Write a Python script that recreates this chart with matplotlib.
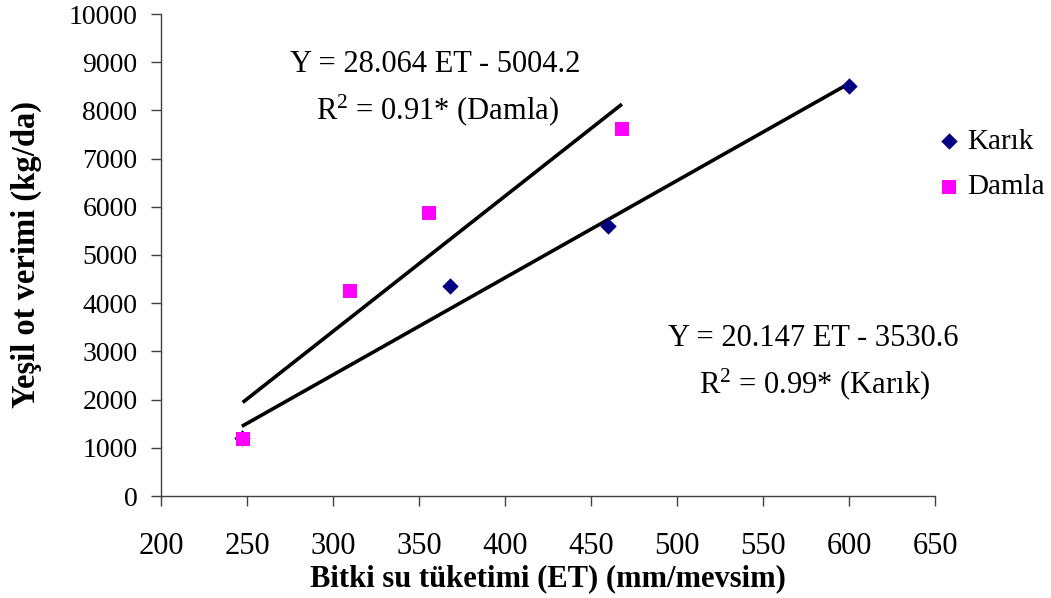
import matplotlib
matplotlib.use("Agg")
import matplotlib.pyplot as plt
import numpy as np

# Data
karik_et = [247, 368, 460, 600]
karik_yield = [1200, 4350, 5600, 8500]
damla_et = [247.5, 310, 356, 468]
damla_yield = [1190, 4250, 5870, 7610]

# Regression coefficients (from chart text)
karik_coef = (20.147, -3530.6)
damla_coef = (28.064, -5004.2)

x_ticks = [200, 250, 300, 350, 400, 450, 500, 550, 600, 650]
y_ticks = [0, 1000, 2000, 3000, 4000, 5000, 6000, 7000, 8000, 9000, 10000]

plt.rcParams['font.family'] = ['Liberation Serif', 'DejaVu Serif']
plt.rcParams['mathtext.fontset'] = 'custom'
plt.rcParams['mathtext.rm'] = 'Liberation Serif'
plt.rcParams['mathtext.it'] = 'Liberation Serif:italic'
plt.rcParams['mathtext.bf'] = 'Liberation Serif:bold'

fig = plt.figure(figsize=(10.51, 5.98), dpi=100)
ax = fig.add_axes([161/1051, 1 - 496/598, (935-161)/1051, (496-14)/598])

# Trend lines
for xs, (a, b) in ((karik_et, karik_coef), (damla_et, damla_coef)):
    xl = np.array([min(xs), max(xs)])
    ax.plot(xl, a * xl + b, color='black', lw=2.6, solid_capstyle='butt', zorder=2)

ax.scatter(karik_et, karik_yield, marker='D', s=70, color='#000080', label='Karık', zorder=3, linewidths=0)
ax.scatter(damla_et, damla_yield, marker='s', s=90, color='#FF00FF', label='Damla', zorder=3, linewidths=0)

ax.set_xlim(200, 650)
ax.set_ylim(0, 10000)
ax.set_xticks(x_ticks)
ax.set_yticks(y_ticks)
ax.set_xticklabels([str(v) for v in x_ticks], fontsize=22)
ax.set_yticklabels([str(v) for v in y_ticks], fontsize=20)

for s in ('top', 'right'):
    ax.spines[s].set_visible(False)
for s in ('left', 'bottom'):
    ax.spines[s].set_color('#404040')
    ax.spines[s].set_linewidth(1.0)
ax.tick_params(axis='both', direction='out', length=7, width=1.0, color='#404040')
ax.tick_params(axis='x', pad=19)
ax.tick_params(axis='y', pad=10)

ax.set_xlabel('Bitki su tüketimi (ET) (mm/mevsim)', fontsize=22, fontweight='bold', labelpad=2)
ax.set_ylabel('Yeşil ot verimi (kg/da)', fontsize=23.5, fontweight='bold')
ax.yaxis.set_label_coords((42 - 161) / 774, 0.5)

# Equation annotations
def fig_text(xp, yp, s):
    fig.text(xp/1051, 1 - yp/598, s, fontsize=22, ha='center', va='center')

fig_text(435, 64, 'Y = 28.064 ET - 5004.2')
fig_text(437, 110, r'R$^{2}$ = 0.91* (Damla)')
fig_text(813, 338, 'Y = 20.147 ET - 3530.6')
fig_text(815, 384, r'R$^{2}$ = 0.99* (Karık)')

leg = ax.legend(loc='center left', bbox_to_anchor=(937/1051, 1 - 164.5/598), bbox_transform=fig.transFigure,
                frameon=False, fontsize=21, handletextpad=0.25, labelspacing=0.65, borderpad=0,
                borderaxespad=0, handlelength=0.8, scatterpoints=1)

fig.savefig('out.png', dpi=100)
